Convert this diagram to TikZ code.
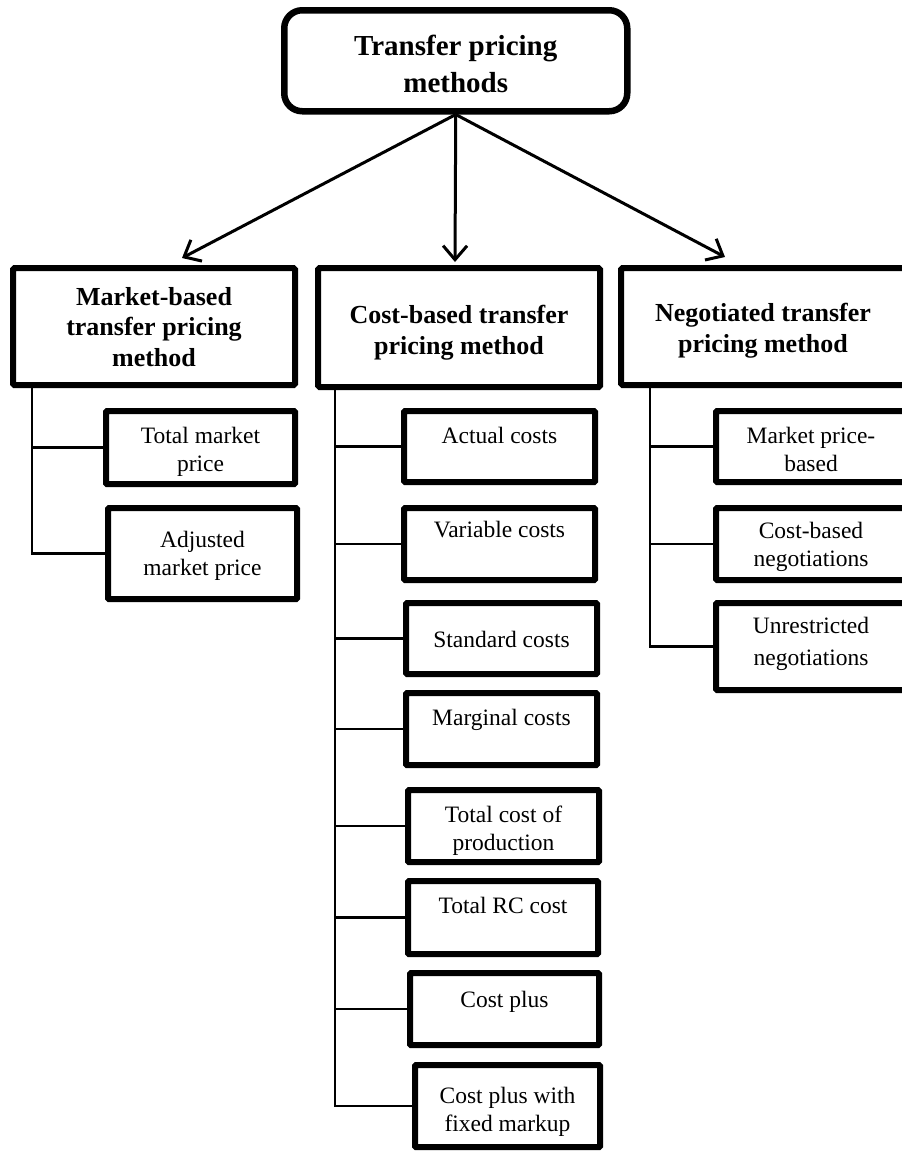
\documentclass[tikz,border=0pt]{standalone}
\usepackage{fontspec}
\setmainfont{Liberation Serif}
\usetikzlibrary{positioning, arrows.meta}

\begin{document}
\begin{tikzpicture}[x=1pt, y=-1pt,
        root/.style={rectangle, draw, line width=6.5pt, rounded corners=18pt, anchor=north west, inner sep=0pt},
        method/.style={rectangle, draw, line width=6pt, rounded corners=1.5pt, anchor=north west, inner sep=0pt},
        variant/.style={rectangle, draw, line width=6pt, rounded corners=1pt, anchor=north west, inner sep=0pt},
        roottext/.style={anchor=north, inner sep=0pt, align=center, font=\fontsize{29}{37}\selectfont\bfseries},
        methodtext/.style={anchor=north, inner sep=0pt, align=center, font=\fontsize{26}{30.5}\selectfont\bfseries},
        varianttext/.style={anchor=north, inner sep=0pt, align=center, font=\fontsize{23.5}{27.5}\selectfont},
        paths/.style={line width=3pt, -{Straight Barb[length=14pt, width=24pt]}},
        branch/.style={line width=2.2pt}
    ]
        \useasboundingbox (0,0) rectangle (902,1152);
        \clip (0,0) rectangle (902,1152);

        % Nodes
        \node[root, minimum width=343pt, minimum height=101pt] (root) at (281,7) {};
        \node[roottext, below=28pt of root.north] (root-label) {Transfer pricing\\methods};

        \node[method, minimum width=282pt, minimum height=117pt] (market) at (10,265) {};
        \node[method, minimum width=282pt, minimum height=119pt] (cost) at (315,265) {};
        \node[method, minimum width=284pt, minimum height=117pt] (nego) at (618,265) {};

        \node[methodtext, below=22pt of market.north] (market-label) {Market-based\\transfer pricing\\method};
        \node[methodtext, below=40pt of cost.north] (cost-label) {Cost-based transfer\\pricing method};
        \node[methodtext, below=38pt of nego.north] (nego-label) {Negotiated transfer\\pricing method};

        % Nodes: market-based variants
        \node[variant, minimum width=189pt, minimum height=73pt] (tmp) at (103,408) {};
        \node[variant, minimum width=189pt, minimum height=91pt] (amp) at (105,505) {};

        \node[varianttext, below=19pt of tmp.north] (tmp-label) {Total market\\price};
        \node[varianttext, below=26pt of amp.north] (amp-label) {Adjusted\\market price};

        % Nodes: cost-based variants
        \node[variant, minimum width=191pt, minimum height=71pt] (act) at (401,408) {};
        \node[variant, minimum width=191pt, minimum height=72pt] (var) at (401,505) {};
        \node[variant, minimum width=191pt, minimum height=71pt] (std) at (403,600) {};
        \node[variant, minimum width=191pt, minimum height=72pt] (mrg) at (403,690) {};
        \node[variant, minimum width=191pt, minimum height=72pt] (tcp) at (405,787) {};
        \node[variant, minimum width=190pt, minimum height=73pt] (trc) at (405,878) {};
        \node[variant, minimum width=189pt, minimum height=72pt] (cp) at (407,970) {};
        \node[variant, minimum width=185pt, minimum height=82pt] (cpf) at (412,1062) {};

        \node[varianttext, below=19pt of act.north] (act-label) {Actual costs};
        \node[varianttext, below=16pt of var.north] (var-label) {Variable costs};
        \node[varianttext, below=31pt of std.north] (std-label) {Standard costs};
        \node[varianttext, below=19pt of mrg.north] (mrg-label) {Marginal costs};
        \node[varianttext, below=19pt of tcp.north] (tcp-label) {Total cost of\\production};
        \node[varianttext, below=19pt of trc.north] (trc-label) {Total RC cost};
        \node[varianttext, below=21pt of cp.north] (cp-label) {Cost plus};
        \node[varianttext, below=25pt of cpf.north] (cpf-label) {Cost plus with\\fixed markup};

        % Nodes: negotiated variants
        \node[variant, minimum width=190pt, minimum height=71pt] (mpb) at (713,408) {};
        \node[variant, minimum width=190pt, minimum height=72pt] (cbn) at (713,505) {};
        \node[variant, minimum width=190pt, minimum height=87pt] (urn) at (713,600) {};

        \node[varianttext, below=19pt of mpb.north] (mpb-label) {Market price-\\based};
        \node[varianttext, below=17pt of cbn.north] (cbn-label) {Cost-based\\negotiations};
        \node[varianttext, below=17pt of urn.north] (urn-label) {Unrestricted\\[4pt]negotiations};

        % Paths: from the root to the methods
        \draw[paths] (root.south) -- ([xshift=28pt, yshift=7pt]market.north);
        \draw[paths] (root.south) -- ([xshift=-4pt, yshift=3pt]cost.north);
        \draw[paths] (root.south) -- ([xshift=-38pt, yshift=8pt]nego.north);

        % Paths: tree lines to the variants
        \coordinate (mtrunk) at ([xshift=22pt]market.south west);
        \coordinate (ctrunk) at ([xshift=20pt]cost.south west);
        \coordinate (ntrunk) at ([xshift=32pt]nego.south west);

        \foreach \v in {tmp, amp} {
            \draw[branch] (mtrunk) |- (\v.west);
        }
        \foreach \v in {act, var, std, mrg, tcp, trc, cp, cpf} {
            \draw[branch] (ctrunk) |- (\v.west);
        }
        \foreach \v in {mpb, cbn, urn} {
            \draw[branch] (ntrunk) |- (\v.west);
        }
    \end{tikzpicture}
\end{document}
